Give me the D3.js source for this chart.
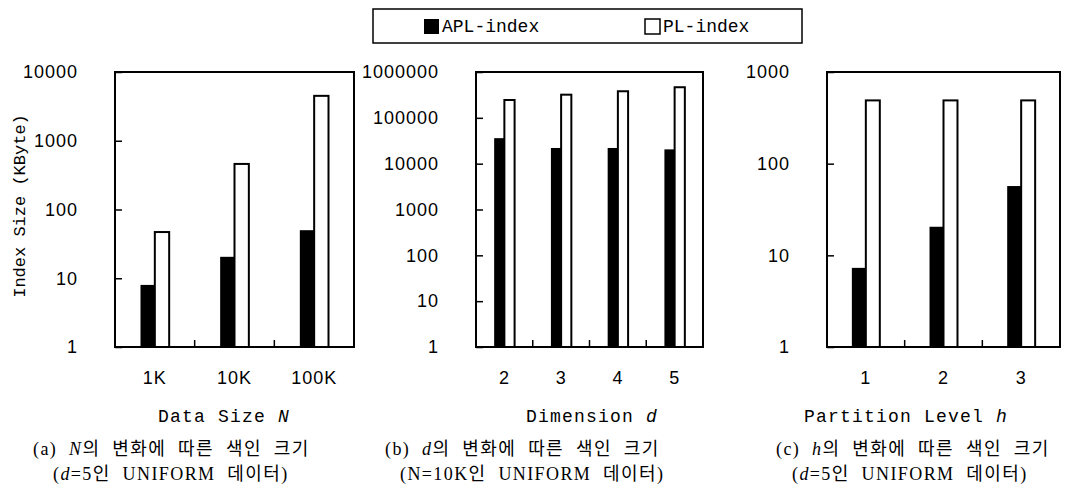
<!DOCTYPE html>
<html>
<head>
<meta charset="utf-8">
<script src="https://cdn.jsdelivr.net/npm/d3@7"></script>
<style>
  html, body { margin: 0; padding: 0; background: #fff; }
  svg { display: block; }
</style>
</head>
<body>
<svg id="chart" width="1078" height="493"></svg>
<script>
// ---- data ----
const seriesNames = ['APL-index', 'PL-index'];

const sizeCats = ['1K', '10K', '100K'];
const sizeApl = [8, 20.5, 50];
const sizePl = [47, 460, 4500];
const sizeTicks = [1, 10, 100, 1000, 10000];

const dimCats = ['2', '3', '4', '5'];
const dimApl = [36000, 22000, 22000, 20500];
const dimPl = [245000, 320000, 380000, 465000];
const dimTicks = [1, 10, 100, 1000, 10000, 100000, 1000000];

const levelCats = ['1', '2', '3'];
const levelApl = [7.3, 20.5, 57];
const levelPl = [490, 490, 490];
const levelTicks = [1, 10, 100, 1000];

const svg = d3.select('#chart');
const sansFont = '"Liberation Sans", Arial, sans-serif';
const monoFont = '"Liberation Mono", "DejaVu Sans Mono", monospace';
const serifFont = '"Liberation Serif", "Noto Sans CJK KR", serif';

// panel layout
const panels = [
  { cats: sizeCats, apl: sizeApl, pl: sizePl, ticks: sizeTicks,
    x0: 115, x1: 354, titleX: 224, title: ['Data Size ', 'N'],
    cap: { x: 33, x2: 53, pre: '(a) ', it: 'N', post: '의 변화에 따른 색인 크기',
           l2pre: '(', l2it: 'd', l2post: '=5인 UNIFORM 데이터)' } },
  { cats: dimCats, apl: dimApl, pl: dimPl, ticks: dimTicks,
    x0: 476, x1: 703, titleX: 592, title: ['Dimension ', 'd'],
    cap: { x: 385, x2: 400, pre: '(b) ', it: 'd', post: '의 변화에 따른 색인 크기',
           l2pre: '(N=10K인 UNIFORM 데이터)', l2it: '', l2post: '' } },
  { cats: levelCats, apl: levelApl, pl: levelPl, ticks: levelTicks,
    x0: 827, x1: 1060, titleX: 906, title: ['Partition Level ', 'h'],
    cap: { x: 776, x2: 792, pre: '(c) ', it: 'h', post: '의 변화에 따른 색인 크기',
           l2pre: '(', l2it: 'd', l2post: '=5인 UNIFORM 데이터)' } }
];

const yTop = 72, yBot = 347;

panels.forEach(p => {
  const g = svg.append('g');
  const x = d3.scaleBand().domain(p.cats).range([p.x0, p.x1]);
  const y = d3.scaleLog().domain([1, p.ticks[p.ticks.length - 1]]).range([yBot, yTop]);
  const pairW = x.bandwidth() * 0.36;
  const sub = d3.scaleBand().domain(seriesNames).range([0, pairW]);

  const rows = p.cats.map((c, i) => ({ cat: c, vals: [p.apl[i], p.pl[i]] }));

  // bars
  rows.forEach(r => {
    const left = x(r.cat) + (x.bandwidth() - pairW) / 2;
    seriesNames.forEach((s, j) => {
      g.append('rect')
        .attr('x', left + sub(s))
        .attr('y', y(r.vals[j]))
        .attr('width', sub.bandwidth())
        .attr('height', yBot - y(r.vals[j]))
        .attr('fill', j === 0 ? '#000' : '#fff')
        .attr('stroke', '#000')
        .attr('stroke-width', j === 0 ? 0 : 2);
    });
  });

  // plot frame
  g.append('rect')
    .attr('x', p.x0).attr('y', yTop)
    .attr('width', p.x1 - p.x0).attr('height', yBot - yTop)
    .attr('fill', 'none').attr('stroke', '#000').attr('stroke-width', 2);

  // y axis: inside ticks, labels on the left
  const yAxis = d3.axisLeft(y).tickValues(p.ticks).tickSize(-7).tickPadding(37)
    .tickFormat(d3.format('d'));
  const ya = g.append('g').attr('transform', `translate(${p.x0},0)`).call(yAxis);
  ya.select('.domain').remove();
  ya.selectAll('.tick line').attr('stroke', '#000').attr('stroke-width', 1.5);
  ya.selectAll('.tick text')
    .attr('font-family', sansFont).attr('font-size', 18)
    .attr('letter-spacing', 1).attr('fill', '#000');

  // x axis: category separators pointing up, labels below
  const xAxis = d3.axisBottom(x).tickSize(0).tickPadding(24);
  const xa = g.append('g').attr('transform', `translate(0,${yBot})`).call(xAxis);
  xa.select('.domain').remove();
  xa.selectAll('.tick text')
    .attr('font-family', sansFont).attr('font-size', 18)
    .attr('letter-spacing', 1).attr('fill', '#000');
  p.cats.slice(1).forEach(c => {
    g.append('line')
      .attr('x1', x(c)).attr('x2', x(c))
      .attr('y1', yBot).attr('y2', yBot - 7)
      .attr('stroke', '#000').attr('stroke-width', 1.5);
  });

  // axis title
  const t = g.append('text')
    .attr('x', p.titleX).attr('y', 422)
    .attr('text-anchor', 'middle')
    .attr('font-family', monoFont).attr('font-size', 18)
    .attr('letter-spacing', 1.2);
  t.append('tspan').text(p.title[0]);
  t.append('tspan').attr('font-style', 'italic').text(p.title[1]);

  // caption
  const c = p.cap;
  const l1 = g.append('text')
    .attr('x', c.x).attr('y', 455)
    .attr('font-family', serifFont).attr('font-size', 18)
    .attr('letter-spacing', 1.4).attr('word-spacing', 6);
  l1.append('tspan').text(c.pre);
  l1.append('tspan').attr('font-style', 'italic').text(c.it);
  l1.append('tspan').text(c.post);

  const l2 = g.append('text')
    .attr('x', c.x2).attr('y', 480)
    .attr('font-family', serifFont).attr('font-size', 18)
    .attr('letter-spacing', 1.4).attr('word-spacing', 6);
  l2.append('tspan').text(c.l2pre);
  if (c.l2it) l2.append('tspan').attr('font-style', 'italic').text(c.l2it);
  if (c.l2post) l2.append('tspan').text(c.l2post);
});

// y axis label
svg.append('text')
  .attr('transform', 'translate(25,206) rotate(-90)')
  .attr('text-anchor', 'middle')
  .attr('font-family', monoFont).attr('font-size', 17)
  .text('Index Size (KByte)');

// legend
const legend = svg.append('g');
legend.append('rect')
  .attr('x', 373).attr('y', 9).attr('width', 429).attr('height', 34)
  .attr('fill', '#fff').attr('stroke', '#000').attr('stroke-width', 1.5);
const legendX = [424, 645];
seriesNames.forEach((s, i) => {
  legend.append('rect')
    .attr('x', legendX[i]).attr('y', 19).attr('width', 15).attr('height', 15)
    .attr('fill', i === 0 ? '#000' : '#fff')
    .attr('stroke', '#000').attr('stroke-width', i === 0 ? 0 : 1.5);
  legend.append('text')
    .attr('x', legendX[i] + 18).attr('y', 32)
    .attr('font-family', monoFont).attr('font-size', 18)
    .text(s);
});
</script>
</body>
</html>
